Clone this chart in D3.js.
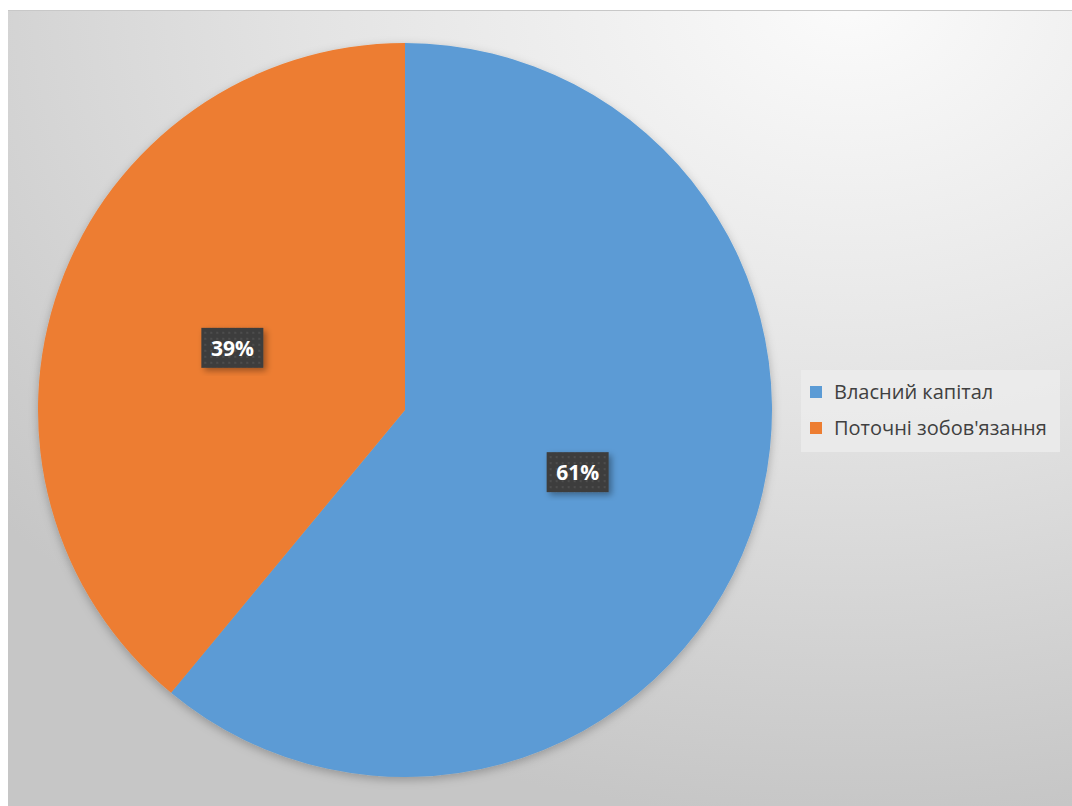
<!DOCTYPE html>
<html>
<head>
<meta charset="utf-8">
<script src="https://d3js.org/d3.v7.min.js"></script>
<style>
  body { margin: 0; background: #fff; }
</style>
</head>
<body>
<svg width="1072" height="806"></svg>
<script>
// data
var categories = ["Власний капітал", "Поточні зобов'язання"];
var values = [61, 39];
var colors = ["#5B9BD5", "#ED7D31"];

var svg = d3.select("svg");
var defs = svg.append("defs");

// background gradient, light near the top right, grey towards the bottom
var bg = defs.append("radialGradient")
  .attr("id", "bg")
  .attr("gradientUnits", "userSpaceOnUse")
  .attr("cx", 0).attr("cy", 0).attr("r", 1)
  .attr("gradientTransform", "translate(850,0) scale(1100,820)");
bg.append("stop").attr("offset", "0%").attr("stop-color", "#fbfbfb");
bg.append("stop").attr("offset", "50%").attr("stop-color", "#e3e3e3");
bg.append("stop").attr("offset", "100%").attr("stop-color", "#c6c6c6");

var shadow = defs.append("filter").attr("id", "shadow")
  .attr("x", "-20%").attr("y", "-20%").attr("width", "140%").attr("height", "140%");
shadow.append("feDropShadow")
  .attr("dx", 3).attr("dy", 3).attr("stdDeviation", 3)
  .attr("flood-color", "#000").attr("flood-opacity", 0.35);

var pieShadow = defs.append("filter").attr("id", "pieShadow")
  .attr("x", "-10%").attr("y", "-10%").attr("width", "120%").attr("height", "120%");
pieShadow.append("feDropShadow")
  .attr("dx", 0).attr("dy", 3).attr("stdDeviation", 5)
  .attr("flood-color", "#000").attr("flood-opacity", 0.25);

// dotted texture for label boxes
var pat = defs.append("pattern").attr("id", "dots")
  .attr("patternUnits", "userSpaceOnUse").attr("width", 6).attr("height", 6);
pat.append("rect").attr("width", 6).attr("height", 6).attr("fill", "#3d3d3d");
pat.append("circle").attr("cx", 3).attr("cy", 3).attr("r", 0.9).attr("fill", "#555");

svg.append("rect")
  .attr("x", 8).attr("y", 10).attr("width", 1064).attr("height", 796)
  .attr("fill", "url(#bg)");
svg.append("line")
  .attr("x1", 8).attr("x2", 1072).attr("y1", 10.5).attr("y2", 10.5)
  .attr("stroke", "#c8c8c8");

var cx = 405, cy = 410, r = 367;

var pie = d3.pie().sort(null).value(function (d) { return d; });
var arcs = pie(values);
var arc = d3.arc().innerRadius(0).outerRadius(r);

var g = svg.append("g").attr("transform", "translate(" + cx + "," + cy + ")");

g.append("g").attr("filter", "url(#pieShadow)")
  .selectAll("path")
  .data(arcs)
  .enter()
  .append("path")
  .attr("d", arc)
  .attr("fill", function (d, i) { return colors[i]; });

// data labels
var labels = g.selectAll("g.lbl")
  .data(arcs)
  .enter()
  .append("g")
  .attr("class", "lbl")
  .attr("transform", function (d) { return "translate(" + arc.centroid(d) + ")"; });

labels.append("rect")
  .attr("x", -31).attr("y", -20).attr("width", 62).attr("height", 40)
  .attr("fill", "url(#dots)")
  .attr("filter", "url(#shadow)");

labels.append("text")
  .attr("text-anchor", "middle")
  .attr("dy", 8)
  .attr("font-family", "Open Sans, sans-serif")
  .attr("font-weight", "bold")
  .attr("font-size", 21)
  .attr("fill", "#fff")
  .text(function (d) { return d.data + "%"; });

// legend
var legend = svg.append("g");
legend.append("rect")
  .attr("x", 801).attr("y", 370).attr("width", 259).attr("height", 82)
  .attr("fill", "#ececec").attr("opacity", 0.8);

var items = legend.selectAll("g.item")
  .data(categories)
  .enter()
  .append("g")
  .attr("class", "item")
  .attr("transform", function (d, i) { return "translate(810," + (386 + i * 36) + ")"; });

items.append("rect")
  .attr("width", 12).attr("height", 12)
  .attr("fill", function (d, i) { return colors[i]; });

items.append("text")
  .attr("x", 24).attr("y", 13)
  .attr("font-family", "Open Sans, sans-serif")
  .attr("font-size", 20)
  .attr("fill", "#404040")
  .text(function (d) { return d; });
</script>
</body>
</html>
